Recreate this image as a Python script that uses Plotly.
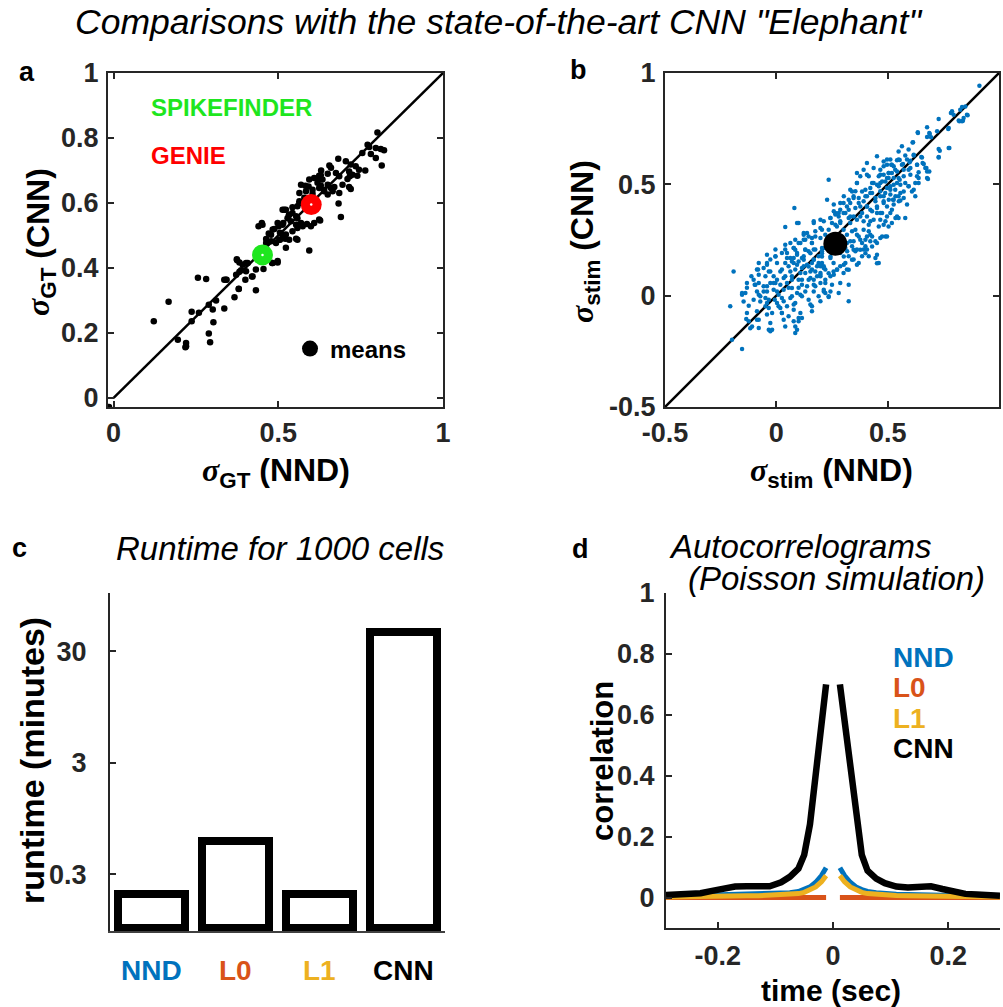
import plotly.graph_objects as go

# ---------------- DATA ----------------
# Panel a: per-cell correlation with ground truth (NND vs CNN)
gt_points = [
    (0.122, 0.236), (0.167, 0.296), (0.195, 0.179), (0.220, 0.169), (0.220, 0.159),
    (0.237, 0.265), (0.237, 0.236), (0.256, 0.370), (0.281, 0.366), (0.259, 0.262),
    (0.289, 0.287), (0.311, 0.300), (0.301, 0.272), (0.303, 0.233), (0.289, 0.198),
    (0.293, 0.171), (0.336, 0.275), (0.336, 0.364), (0.343, 0.364), (0.367, 0.310),
    (0.380, 0.336), (0.372, 0.379), (0.382, 0.388), (0.400, 0.364), (0.402, 0.390),
    (0.420, 0.374), (0.432, 0.331), (0.432, 0.395), (0.455, 0.397), (0.375, 0.424),
    (0.382, 0.417), (0.407, 0.415), (0.392, 0.410), (0.481, 0.415), (0.498, 0.417),
    (0.440, 0.528), (0.452, 0.533), (0.463, 0.489), (0.478, 0.502), (0.488, 0.520),
    (0.501, 0.528), (0.503, 0.487), (0.493, 0.477), (0.515, 0.538), (0.523, 0.462),
    (0.513, 0.502), (0.523, 0.579),
    (0.801, 0.817), (0.771, 0.779), (0.776, 0.772), (0.796, 0.769), (0.811, 0.766),
    (0.821, 0.762), (0.755, 0.754), (0.781, 0.751), (0.796, 0.738), (0.814, 0.715),
    (0.682, 0.736), (0.705, 0.728), (0.720, 0.718), (0.735, 0.713), (0.745, 0.702),
    (0.764, 0.700), (0.715, 0.697), (0.725, 0.687), (0.740, 0.684), (0.655, 0.715),
    (0.660, 0.708), (0.675, 0.692), (0.650, 0.690), (0.685, 0.682), (0.710, 0.674),
    (0.715, 0.649), (0.720, 0.643), (0.624, 0.684), (0.634, 0.672), (0.609, 0.677),
    (0.594, 0.672), (0.619, 0.662), (0.650, 0.656), (0.670, 0.649), (0.695, 0.656),
    (0.685, 0.631), (0.665, 0.636), (0.639, 0.641), (0.650, 0.626), (0.624, 0.646),
    (0.604, 0.641), (0.582, 0.653), (0.569, 0.656), (0.584, 0.636), (0.564, 0.631),
    (0.683, 0.598), (0.690, 0.557), (0.594, 0.454), (0.624, 0.549), (0.627, 0.546),
    (0.609, 0.538), (0.599, 0.528), (0.564, 0.600), (0.558, 0.590), (0.543, 0.569),
    (0.558, 0.553), (0.569, 0.538), (0.574, 0.528), (0.554, 0.533), (0.538, 0.544),
    (0.533, 0.564), (0.513, 0.579), (0.528, 0.553), (0.543, 0.513), (0.533, 0.487),
    (0.521, 0.490), (0.558, 0.487), (0.498, 0.538), (0.471, 0.506), (0.478, 0.482),
    (0.463, 0.477), (0.498, 0.421), (0.483, 0.415), (0.422, 0.374), (0.402, 0.415),
    (0.374, 0.427), (0.387, 0.393), (0.380, 0.335), (0.341, 0.364), (0.218, 0.156),
    (-0.014, -0.028),
    (0.629, 0.685), (0.623, 0.677), (0.592, 0.651), (0.717, 0.682), (0.660, 0.646),
    (0.639, 0.636), (0.629, 0.654), (0.604, 0.628), (0.579, 0.616), (0.564, 0.605),
    (0.543, 0.587), (0.518, 0.579), (0.532, 0.562), (0.554, 0.559), (0.513, 0.533),
    (0.483, 0.518), (0.505, 0.508), (0.523, 0.503), (0.558, 0.523), (0.587, 0.535),
    (0.505, 0.487), (0.554, 0.490), (0.450, 0.538), (0.630, 0.700),
]
gt_nnd = [p[0] for p in gt_points]
gt_cnn = [p[1] for p in gt_points]

# Means per dataset
mean_names = ["SPIKEFINDER", "GENIE"]
mean_nnd = [0.452, 0.600]
mean_cnn = [0.440, 0.595]
mean_colors = ["#1ee61e", "#ff0000"]

# Panel b: stimulus correlation per cell
stim_points = [
    (0.912, 0.943), (0.834, 0.847), (0.826, 0.835), (0.789, 0.828), (0.784, 0.820),
    (0.856, 0.813), (0.841, 0.798), (0.819, 0.787), (0.834, 0.783), (0.729, 0.793),
    (0.772, 0.749), (0.722, 0.738), (0.687, 0.731), (0.635, 0.734), (0.677, 0.713),
    (0.614, 0.689), (0.774, 0.663), (0.729, 0.659), (0.729, 0.623), (0.594, 0.656),
    (0.617, 0.629), (0.651, 0.623), (0.587, 0.611), (0.599, 0.599), (0.657, 0.596),
    (0.674, 0.573), (0.677, 0.528), (0.632, 0.588), (0.639, 0.554), (0.549, 0.611),
    (0.564, 0.588), (0.572, 0.566), (0.527, 0.581), (0.542, 0.558), (0.519, 0.551),
    (0.504, 0.528), (0.497, 0.528), (0.452, 0.626), (0.554, 0.521), (0.579, 0.506),
    (0.594, 0.491), (0.617, 0.476), (0.624, 0.446), (0.534, 0.476), (0.557, 0.461),
    (0.572, 0.439), (0.587, 0.409), (0.542, 0.356), (0.549, 0.349), (0.579, 0.349),
    (0.497, 0.401), (0.519, 0.386), (0.460, 0.491), (0.467, 0.469), (0.482, 0.446),
    (0.437, 0.506), (0.422, 0.484), (0.430, 0.461), (0.400, 0.476), (0.407, 0.446),
    (0.392, 0.424), (0.362, 0.506), (0.355, 0.469), (0.370, 0.439), (0.347, 0.446),
    (0.332, 0.416), (0.325, 0.386), (0.302, 0.371), (0.280, 0.356), (0.265, 0.364),
    (0.235, 0.521), (0.377, 0.401), (0.385, 0.371), (0.407, 0.356), (0.422, 0.334),
    (0.452, 0.371), (0.467, 0.341), (0.482, 0.319), (0.415, 0.289), (0.430, 0.266),
    (0.445, 0.244), (0.452, 0.184), (0.445, 0.169), (0.460, 0.147), (0.407, 0.207),
    (0.415, 0.177), (0.490, 0.266), (0.370, 0.266), (0.385, 0.237), (0.347, 0.244),
    (0.340, 0.222), (0.355, 0.199), (0.325, 0.177), (0.310, 0.147), (0.317, 0.117),
    (0.325, -0.025), (0.325, 0.049), (0.287, 0.057), (0.280, 0.012), (0.250, 0.049),
    (0.243, 0.019), (0.235, -0.006), (0.198, 0.057), (0.213, 0.027), (0.168, 0.072),
    (0.183, 0.087), (0.138, 0.139), (0.115, 0.124), (0.153, 0.109), (0.190, 0.177),
    (0.205, 0.147), (0.220, 0.117), (0.243, 0.169), (0.257, 0.147), (0.272, 0.117),
    (0.168, 0.326), (0.168, 0.207), (0.160, 0.237), (0.175, 0.266), (0.205, 0.296),
    (0.220, 0.274), (0.198, 0.259), (0.250, 0.326), (0.243, 0.349), (0.265, 0.371),
    (0.272, 0.311), (0.287, 0.326), (0.302, 0.296), (0.332, 0.326), (0.340, 0.289),
    (0.317, 0.274), (0.100, 0.326), (0.081, 0.394), (0.040, 0.308), (0.123, 0.281),
    (0.130, 0.251), (0.108, 0.237), (0.063, 0.237), (0.078, 0.214), (0.093, 0.192),
    (0.040, 0.207), (0.025, 0.192), (0.048, 0.169), (-0.004, 0.177), (-0.027, 0.162),
    (0.003, 0.147), (-0.042, 0.147), (-0.057, 0.124), (-0.027, 0.109), (-0.087, 0.117),
    (-0.079, 0.094), (-0.102, 0.072), (-0.192, 0.109), (-0.094, 0.049), (-0.132, 0.057),
    (-0.139, 0.012), (-0.154, 0.012), (-0.207, -0.048), (-0.132, -0.078), (-0.124, -0.115),
    (-0.109, -0.138), (-0.079, -0.145), (-0.087, -0.108), (-0.049, -0.010), (-0.042, -0.033),
    (-0.034, -0.055), (-0.019, -0.078), (-0.019, -0.153), (-0.027, -0.160), (0.003, -0.033),
    (0.018, -0.055), (0.025, -0.078), (0.048, -0.048), (0.055, -0.093), (0.078, -0.115),
    (0.085, -0.168), (0.093, -0.153), (0.100, -0.115), (0.108, -0.078), (0.115, -0.100),
    (0.145, -0.018), (0.160, -0.048), (0.190, -0.003), (0.198, -0.025), (0.220, 0.012),
    (-0.154, -0.240), (-0.199, -0.198), (-0.079, 0.057), (-0.057, 0.042), (-0.027, 0.057),
    (-0.012, 0.027), (0.010, 0.004), (0.033, 0.027), (0.048, 0.057), (0.070, 0.034),
    (0.093, 0.012), (0.070, 0.087), (0.100, 0.072), (0.115, 0.049), (0.018, 0.109),
    (0.040, 0.087), (0.055, 0.132), (0.078, 0.147), (0.100, 0.154), (0.123, 0.177),
    (0.145, 0.199), (0.003, 0.072), (-0.012, 0.057), (-0.042, 0.019), (-0.072, -0.003),
    (-0.087, 0.019), (-0.102, -0.018), (0.033, -0.025), (0.063, -0.010), (0.078, -0.040),
    (0.115, -0.003), (0.130, 0.019), (0.138, 0.042), (0.168, 0.019), (0.175, 0.042),
    (0.198, 0.087), (0.220, 0.072), (0.243, 0.087), (0.257, 0.109), (0.287, 0.132),
    (0.302, 0.102), (0.265, 0.207), (0.287, 0.192), (0.310, 0.214), (0.220, 0.214),
    (0.243, 0.237), (0.272, 0.244), (0.347, 0.162), (0.370, 0.147), (0.385, 0.177),
    (0.362, 0.207), (0.392, 0.207), (0.392, 0.296), (0.407, 0.266), (0.355, 0.296),
    (0.347, 0.356), (0.362, 0.341), (0.325, 0.349), (0.302, 0.416), (0.317, 0.401),
    (0.287, 0.386), (0.377, 0.536), (0.407, 0.543), (0.460, 0.536), (0.475, 0.513),
    (0.497, 0.484), (0.512, 0.454), (0.527, 0.431), (0.482, 0.424), (0.445, 0.424),
    (0.452, 0.401), (0.407, 0.401), (0.422, 0.386), (0.475, 0.371), (0.497, 0.356),
    (0.519, 0.326), (0.504, 0.311), (0.475, 0.266), (0.452, 0.237), (0.400, 0.222),
    (0.422, 0.244), (0.317, 0.237), (0.295, 0.266), (0.183, 0.132), (0.160, 0.147),
    (0.085, 0.117), (0.063, 0.169), (0.130, 0.102), (0.145, 0.072), (0.198, 0.132),
    (0.205, 0.199), (0.564, 0.671), (0.549, 0.648), (0.512, 0.611), (0.497, 0.588),
    (0.482, 0.603), (0.467, 0.566), (0.579, 0.629), (0.602, 0.573), (0.639, 0.528),
    (0.624, 0.506), (0.687, 0.558),
    # lower-left part of the cloud
    (-0.132, 0.035), (-0.124, -0.045), (-0.135, -0.105), (-0.117, -0.146), (-0.097, 0.049),
    (-0.082, 0.117), (-0.079, 0.004), (-0.072, -0.026), (-0.087, -0.070), (-0.079, -0.108),
    (-0.034, -0.153), (-0.027, -0.123), (-0.042, -0.085), (-0.049, -0.048), (-0.034, -0.018),
    (-0.057, 0.019), (-0.042, 0.042), (-0.049, 0.087), (-0.034, 0.109), (-0.042, 0.139),
    (-0.004, 0.176), (-0.012, 0.087), (-0.004, 0.057), (0.003, 0.019), (-0.007, -0.018),
    (0.010, -0.048), (0.025, -0.078), (0.033, -0.108), (0.040, -0.138), (0.025, -0.010),
    (0.018, 0.049), (0.033, 0.079), (0.025, 0.117), (0.040, 0.147), (0.048, 0.192),
    (0.078, 0.214), (0.093, 0.184), (0.070, 0.154), (0.063, 0.109), (0.070, 0.072),
    (0.055, 0.035), (0.070, -0.003), (0.085, -0.033), (0.078, -0.063), (0.100, -0.100),
    (0.085, -0.138), (0.108, 0.004), (0.100, 0.035), (0.115, 0.072), (0.108, 0.102),
    (0.123, 0.132), (0.115, 0.169), (0.130, 0.207), (0.145, 0.266), (0.160, 0.237),
    (0.168, 0.162), (0.160, 0.117), (0.153, 0.079), (0.168, 0.049), (0.153, -0.040),
    (0.160, -0.070), (0.190, 0.147), (0.205, 0.176), (0.198, 0.102), (0.213, 0.132),
    (0.220, 0.057), (0.213, 0.019), (0.235, -0.003), (0.205, 0.214), (0.175, 0.207),
    (0.123, 0.274), (0.085, 0.251), (0.040, 0.229), (-0.004, 0.207), (-0.042, 0.184),
    (-0.079, 0.147), (-0.112, 0.087), (-0.154, 0.004), (-0.147, -0.026),
    # middle part of the cloud
    (0.516, 0.588), (0.542, 0.608), (0.505, 0.551), (0.467, 0.543), (0.415, 0.536),
    (0.430, 0.506), (0.452, 0.498), (0.490, 0.513), (0.512, 0.491), (0.527, 0.528),
    (0.542, 0.506), (0.362, 0.506), (0.385, 0.468), (0.400, 0.446), (0.422, 0.461),
    (0.445, 0.439), (0.467, 0.446), (0.482, 0.416), (0.505, 0.431), (0.527, 0.409),
    (0.535, 0.446), (0.550, 0.424), (0.340, 0.468), (0.347, 0.439), (0.370, 0.416),
    (0.355, 0.394), (0.407, 0.401), (0.430, 0.379), (0.452, 0.394), (0.467, 0.371),
    (0.512, 0.371), (0.535, 0.349), (0.332, 0.356), (0.310, 0.371), (0.377, 0.356),
    (0.392, 0.334), (0.415, 0.319), (0.437, 0.341), (0.460, 0.311), (0.490, 0.334),
    (0.497, 0.266), (0.467, 0.259), (0.422, 0.274), (0.400, 0.251), (0.362, 0.274),
    (0.377, 0.251), (0.332, 0.244), (0.347, 0.206), (0.377, 0.206), (0.400, 0.191),
    (0.452, 0.146), (0.430, 0.221), (0.287, 0.334), (0.280, 0.371), (0.258, 0.379),
    (0.243, 0.349), (0.265, 0.319), (0.235, 0.296), (0.213, 0.334), (0.198, 0.304),
    (0.175, 0.289), (0.160, 0.259), (0.138, 0.281), (0.123, 0.251), (0.100, 0.236),
    (0.085, 0.206), (0.078, 0.169), (0.093, 0.139), (0.130, 0.206), (0.153, 0.191),
    (0.123, 0.161), (0.145, 0.131), (0.168, 0.161), (0.190, 0.139), (0.175, 0.109),
    (0.198, 0.094), (0.213, 0.124), (0.235, 0.101), (0.258, 0.094), (0.273, 0.116),
    (0.303, 0.139), (0.325, 0.116), (0.340, 0.161), (0.362, 0.139), (0.303, 0.176),
    (0.318, 0.199), (0.243, 0.176), (0.205, 0.191), (0.093, 0.326), (0.168, 0.334),
    (0.198, 0.341), (0.228, 0.431), (0.258, 0.409), (0.287, 0.416), (0.303, 0.446),
    (0.325, 0.431), (0.332, 0.476), (0.362, 0.551), (0.392, 0.566), (0.407, 0.596),
    (0.437, 0.573), (0.482, 0.581), (0.497, 0.611),
    # upper-right part of the cloud
    (0.796, 0.813), (0.849, 0.850), (0.859, 0.810), (0.838, 0.786), (0.822, 0.783),
    (0.677, 0.756), (0.636, 0.730), (0.689, 0.726), (0.695, 0.711), (0.774, 0.753),
    (0.612, 0.688), (0.734, 0.651), (0.777, 0.663), (0.729, 0.621), (0.654, 0.621),
    (0.617, 0.633), (0.554, 0.609), (0.569, 0.591), (0.602, 0.606), (0.632, 0.588),
    (0.662, 0.591), (0.669, 0.573), (0.519, 0.588), (0.534, 0.566), (0.504, 0.551),
    (0.594, 0.566), (0.602, 0.543), (0.572, 0.536), (0.677, 0.558), (0.681, 0.524),
    (0.632, 0.536), (0.639, 0.506), (0.549, 0.528), (0.557, 0.498), (0.527, 0.498),
    (0.594, 0.491), (0.609, 0.468), (0.572, 0.468), (0.549, 0.446), (0.512, 0.476),
    (0.489, 0.461), (0.524, 0.431), (0.557, 0.427), (0.482, 0.543), (0.467, 0.506),
]
stim_nnd = [p[0] for p in stim_points]
stim_cnn = [p[1] for p in stim_points]
stim_mean_nnd = [0.265]
stim_mean_cnn = [0.233]

# Panel c: runtime for 1000 cells (minutes)
methods = ["NND", "L0", "L1", "CNN"]
method_colors = ["#0072BD", "#D95319", "#EDB120", "#000000"]
runtime_min = [0.2, 0.6, 0.2, 45.0]
runtime_ticks = [0.3, 3, 30]

# Panel d: autocorrelograms (Poisson simulation)
t_left = [-0.29, -0.27, -0.25, -0.23, -0.21, -0.19, -0.17, -0.15, -0.13, -0.11,
          -0.09, -0.075, -0.06, -0.05, -0.04, -0.03, -0.02, -0.012]
t_right = [0.012, 0.02, 0.03, 0.04, 0.05, 0.06, 0.075, 0.09, 0.11, 0.13,
           0.15, 0.17, 0.19, 0.21, 0.23, 0.25, 0.27, 0.29]
acg_nnd_left = [0.004, 0.005, 0.005, 0.006, 0.007, 0.008, 0.009, 0.010, 0.010, 0.011,
                0.013, 0.016, 0.020, 0.026, 0.035, 0.050, 0.072, 0.098]
acg_nnd_right = [0.098, 0.072, 0.050, 0.035, 0.026, 0.020, 0.016, 0.013, 0.011, 0.010,
                 0.010, 0.009, 0.008, 0.007, 0.006, 0.005, 0.005, 0.004]
acg_l0_left = [0.0] * 18
acg_l0_right = [0.0] * 18
acg_l1_left = [0.002, 0.003, 0.004, 0.004, 0.005, 0.006, 0.006, 0.006, 0.006, 0.007,
               0.008, 0.010, 0.013, 0.017, 0.024, 0.035, 0.052, 0.072]
acg_l1_right = [0.072, 0.052, 0.035, 0.024, 0.017, 0.013, 0.010, 0.008, 0.007, 0.006,
                0.006, 0.006, 0.005, 0.004, 0.004, 0.003, 0.003, 0.002]
acg_cnn_left = [0.008, 0.010, 0.011, 0.014, 0.022, 0.030, 0.036, 0.037, 0.035, 0.037,
                0.050, 0.068, 0.095, 0.14, 0.24, 0.40, 0.60, 0.70]
acg_cnn_right = [0.70, 0.58, 0.42, 0.25, 0.14, 0.088, 0.062, 0.047, 0.036, 0.033,
                 0.036, 0.037, 0.028, 0.018, 0.012, 0.010, 0.009, 0.006]

# ---------------- FIGURE ----------------
W, H = 1003, 1007
FONT = "Liberation Sans, Arial, sans-serif"
AX = "#262626"


def px_x(p):
    return p / W


def px_y(p):
    return 1 - p / H


fig = go.Figure()

# Panel a
fig.add_trace(go.Scatter(x=[0, 1], y=[0, 1], mode="lines", line=dict(color="black", width=2.5),
                         xaxis="x", yaxis="y", showlegend=False, hoverinfo="skip"))
fig.add_trace(go.Scatter(x=gt_nnd, y=gt_cnn, mode="markers",
                         marker=dict(color="black", size=6.5), xaxis="x", yaxis="y",
                         showlegend=False))
fig.add_trace(go.Scatter(x=mean_nnd, y=mean_cnn, mode="markers",
                         marker=dict(color=mean_colors, size=21), xaxis="x", yaxis="y",
                         showlegend=False))
fig.add_trace(go.Scatter(x=mean_nnd, y=mean_cnn, mode="markers",
                         marker=dict(color="white", size=2.5), xaxis="x", yaxis="y",
                         showlegend=False))
fig.add_trace(go.Scatter(x=[None], y=[None], mode="markers", name="means",
                         marker=dict(color="black", size=20, symbol="circle"),
                         xaxis="x", yaxis="y", showlegend=True))

# Panel b
fig.add_trace(go.Scatter(x=[-0.5, 1], y=[-0.5, 1], mode="lines", line=dict(color="black", width=2.5),
                         xaxis="x2", yaxis="y2", showlegend=False, hoverinfo="skip"))
fig.add_trace(go.Scatter(x=stim_nnd, y=stim_cnn, mode="markers",
                         marker=dict(color="#0072BD", size=4.5), xaxis="x2", yaxis="y2",
                         showlegend=False))
fig.add_trace(go.Scatter(x=stim_mean_nnd, y=stim_mean_cnn, mode="markers",
                         marker=dict(color="black", size=24), xaxis="x2", yaxis="y2",
                         showlegend=False))

# Panel c
bar_base = 0.1
fig.add_trace(go.Bar(x=[1, 2, 3, 4], y=[v - bar_base for v in runtime_min], base=bar_base,
                     width=0.8, marker=dict(color="white", line=dict(color="black", width=8)),
                     xaxis="x3", yaxis="y3", showlegend=False))

# Panel d
def both(left, right):
    return left + [None] + right

t_all = both(t_left, t_right)
for vals, col, w in [
    (both(acg_nnd_left, acg_nnd_right), method_colors[0], 5),
    (both(acg_l0_left, acg_l0_right), method_colors[1], 5),
    (both(acg_l1_left, acg_l1_right), method_colors[2], 5),
    (both(acg_cnn_left, acg_cnn_right), method_colors[3], 6.5),
]:
    fig.add_trace(go.Scatter(x=t_all, y=vals, mode="lines", line=dict(color=col, width=w),
                             connectgaps=False, xaxis="x4", yaxis="y4", showlegend=False))

tickfont = dict(family=FONT, size=27, color=AX, weight="bold")

box_common = dict(showgrid=False, zeroline=False, showline=True, linecolor=AX, linewidth=2,
                  ticks="inside", ticklen=6, tickwidth=2, tickcolor=AX, tickfont=tickfont,
                  automargin=False)

# domains
a_x = [px_x(108), px_x(443)]
b_x = [px_x(665), px_x(999)]
top_y = [px_y(407), px_y(73)]
c_x = [px_x(110), px_x(445)]
d_x = [px_x(666), px_x(1000)]
bot_y = [px_y(928), px_y(593)]
c_y = [px_y(931), px_y(593)]

fig.update_layout(
    width=W, height=H, margin=dict(l=0, r=0, t=0, b=0, autoexpand=False),
    paper_bgcolor="white", plot_bgcolor="white",
    font=dict(family=FONT, color="black"),
    xaxis=dict(domain=a_x, range=[-0.017, 1.0], tickvals=[0, 0.5, 1], ticktext=["0", "0.5", "1"],
               mirror="ticks", anchor="y", ticklabelstandoff=1, **box_common),
    yaxis=dict(domain=top_y, range=[-0.028, 1.0], tickvals=[0, 0.2, 0.4, 0.6, 0.8, 1],
               ticktext=["0", "0.2", "0.4", "0.6", "0.8", "1"], mirror="ticks", anchor="x",
               ticklabelstandoff=2, **box_common),
    xaxis2=dict(domain=b_x, range=[-0.5, 1.0], tickvals=[-0.5, 0, 0.5, 1],
                ticktext=["-0.5", "0", "0.5", "1"], mirror="ticks", anchor="y2",
                ticklabelstandoff=1, **box_common),
    yaxis2=dict(domain=top_y, range=[-0.5, 1.0], tickvals=[-0.5, 0, 0.5, 1],
                ticktext=["-0.5", "0", "0.5", "1"], mirror="ticks", anchor="x2",
                ticklabelstandoff=2, **box_common),
    xaxis3=dict(domain=c_x, range=[0.5, 4.5], showgrid=False, zeroline=False, showline=True,
                linecolor="#404040", linewidth=1.5, ticks="", showticklabels=False, anchor="y3",
                automargin=False),
    yaxis3=dict(domain=c_y, type="log", range=[-1.03, 2.0], tickvals=runtime_ticks,
                ticktext=[str(v) for v in runtime_ticks], anchor="x3", ticklabelstandoff=16,
                **box_common),
    xaxis4=dict(domain=d_x, range=[-0.29, 0.29], tickvals=[-0.2, 0, 0.2],
                ticktext=["-0.2", "0", "0.2"], anchor="y4", ticklabelstandoff=3, **box_common),
    yaxis4=dict(domain=bot_y, range=[-0.1, 1.0], tickvals=[0, 0.2, 0.4, 0.6, 0.8, 1],
                ticktext=["0", "0.2", "0.4", "0.6", "0.8", "1"], anchor="x4",
                ticklabelstandoff=4, **box_common),
    legend=dict(x=px_x(290), y=px_y(349), xanchor="left", yanchor="middle",
                bgcolor="rgba(0,0,0,0)", font=dict(family=FONT, size=24, color="black", weight="bold"),
                itemwidth=30),
    bargap=0,
)

ann = []


def text(x, y, s, size, bold=False, italic=False, color="black", xanchor="center",
         angle=0, xref="paper", yref="paper"):
    ann.append(dict(x=x, y=y, xref=xref, yref=yref, text=s, showarrow=False,
                    xanchor=xanchor, yanchor="middle", textangle=angle,
                    font=dict(family=FONT, size=size, color=color,
                              weight="bold" if bold else "normal",
                              style="italic" if italic else "normal")))


sigma = '<span style="font-family:Liberation Serif;font-style:italic">σ</span>'

text(px_x(498), px_y(22), 'Comparisons with the state-of-the-art CNN "Elephant"', 35.5, italic=True)
text(px_x(27), px_y(72), "a", 27, bold=True)
text(px_x(578), px_y(70), "b", 27, bold=True)
text(px_x(19), px_y(548), "c", 27, bold=True)
text(px_x(580), px_y(549), "d", 27, bold=True)

# panel a texts
text(px_x(149), px_y(107), mean_names[0], 24, bold=True, color=mean_colors[0], xanchor="left")
text(px_x(149), px_y(155), mean_names[1], 24, bold=True, color=mean_colors[1], xanchor="left")
text(px_x(276), px_y(472), sigma + "<sub>GT</sub> (NND)", 32, bold=True)
text(px_x(40), px_y(242), sigma + "<sub>GT</sub> (CNN)", 32, bold=True, angle=-90)

# panel b texts
text(px_x(831), px_y(472), sigma + "<sub>stim</sub> (NND)", 32, bold=True)
text(px_x(584), px_y(242), sigma + "<sub>stim</sub> (CNN)", 32, bold=True, angle=-90)

# panel c texts
text(px_x(280), px_y(548), "Runtime for 1000 cells", 33, italic=True)
text(px_x(32), px_y(761), "runtime (minutes)", 34, bold=True, angle=-90)
for i, (m, c) in enumerate(zip(methods, method_colors)):
    text(i + 1, px_y(970), m, 28, bold=True, color=c, xref="x3")

# panel d texts
text(px_x(800), px_y(546), "Autocorrelograms", 33, italic=True)
text(px_x(836), px_y(578), "(Poisson simulation)", 33, italic=True)
text(px_x(602), px_y(761), "correlation", 31, bold=True, angle=-90)
text(px_x(831), px_y(990), "time (sec)", 30, bold=True)
for i, (m, c) in enumerate(zip(methods, method_colors)):
    text(px_x(891), px_y(657 + 30.5 * i), m, 28, bold=True, color=c, xanchor="left")

fig.update_layout(annotations=ann)

fig.write_html("out.html", config={"displayModeBar": False},
               post_script="document.body.style.margin='0px';")
